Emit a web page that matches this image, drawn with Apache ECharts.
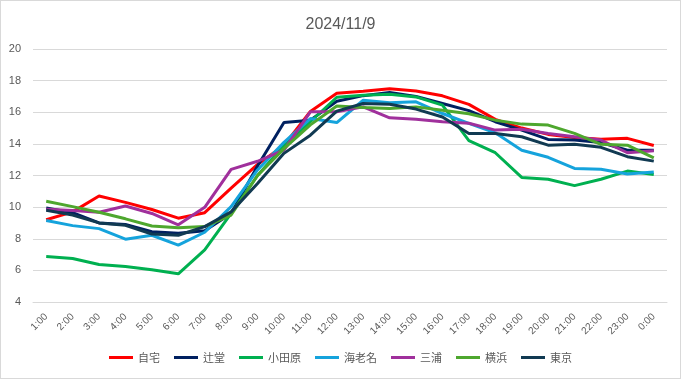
<!DOCTYPE html>
<html><head><meta charset="utf-8">
<script src="https://cdn.jsdelivr.net/npm/echarts@6/dist/echarts.min.js"></script>
<style>html,body{margin:0;padding:0;background:#fff}
#c{width:679px;height:377px;border:1px solid #d9d9d9}</style>
</head><body><div id="c"></div>
<script>
const categories = ['1:00','2:00','3:00','4:00','5:00','6:00','7:00','8:00','9:00','10:00','11:00','12:00','13:00','14:00','15:00','16:00','17:00','18:00','19:00','20:00','21:00','22:00','23:00','0:00'];
const jitaku   = [9.2,9.7,10.7,10.3,9.85,9.3,9.65,11.2,12.7,13.9,16.05,17.2,17.33,17.48,17.35,17.04,16.5,15.55,15.0,14.6,14.4,14.3,14.35,13.9];
const tsujido  = [9.95,9.65,9.0,8.9,8.45,8.35,8.5,9.6,12.6,15.35,15.5,16.7,17.05,17.25,17.0,16.55,16.1,15.4,14.87,14.28,14.24,14.09,13.6,13.6];
const odawara  = [6.88,6.75,6.37,6.25,6.04,5.78,7.3,9.6,12.0,13.9,15.4,16.95,17.08,17.14,16.97,16.45,14.2,13.44,11.88,11.76,11.36,11.76,12.28,12.07];
const ebina    = [9.15,8.83,8.64,7.97,8.22,7.6,8.41,10.03,12.35,14.1,15.6,15.35,16.76,16.6,16.66,15.92,15.3,14.7,13.6,13.15,12.45,12.39,12.1,12.22];
const miura    = [9.87,9.78,9.68,10.07,9.6,8.88,9.99,12.39,12.9,13.6,16.03,16.03,16.34,15.65,15.55,15.4,15.3,14.87,14.93,14.66,14.45,14.24,13.44,13.57];
const yokohama = [10.37,10.03,9.68,9.26,8.81,8.7,8.77,9.5,12.0,13.7,15.2,16.4,16.3,16.24,16.34,16.13,15.9,15.5,15.25,15.19,14.66,13.97,13.92,13.12];
const tokyo    = [9.8,9.5,9.0,8.85,8.3,8.22,8.77,9.7,11.5,13.4,14.55,16.07,16.55,16.5,16.2,15.7,14.66,14.66,14.45,13.92,13.97,13.78,13.19,12.91];
const yTicks = {min:4, max:20, interval:2};

const names = ['自宅','辻堂','小田原','海老名','三浦','横浜','東京'];
const datas = [jitaku,tsujido,odawara,ebina,miura,yokohama,tokyo];
const colors = ['#ff0000','#002060','#00b050','#15a3dc','#a0309c','#4ea72e','#113a52'];

const chart = echarts.init(document.getElementById('c'));
chart.setOption({
  animation:false,
  textStyle:{fontFamily:'"Liberation Sans", "Noto Sans CJK JP", sans-serif'},
  title:{text:'2024/11/9',left:'center',top:11,textStyle:{fontSize:16,fontWeight:'normal',color:'#595959',fontFamily:'"Liberation Sans", sans-serif'}},
  grid:{left:32,right:13,top:48,bottom:76,containLabel:false},
  legend:{bottom:10,left:'center',itemWidth:24,itemHeight:3,itemGap:14,icon:'rect',
    textStyle:{fontSize:11,color:'#595959',fontFamily:'"Noto Sans CJK JP", sans-serif'},
    data:names},
  xAxis:{type:'category',data:categories,boundaryGap:true,
    axisLine:{lineStyle:{color:'#d9d9d9'}},axisTick:{show:false},
    axisLabel:{rotate:45,fontSize:10,color:'#595959',margin:13,interval:0}},
  yAxis:{type:'value',min:yTicks.min,max:yTicks.max,interval:yTicks.interval,
    axisLine:{show:false},axisTick:{show:false},
    axisLabel:{fontSize:11,color:'#595959',margin:12},
    splitLine:{lineStyle:{color:'#d9d9d9',width:1}}},
  series:names.map((n,i)=>({name:n,type:'line',data:datas[i],showSymbol:false,symbol:'none',
    lineStyle:{width:3,color:colors[i]},itemStyle:{color:colors[i]}}))
});
</script></body></html>
